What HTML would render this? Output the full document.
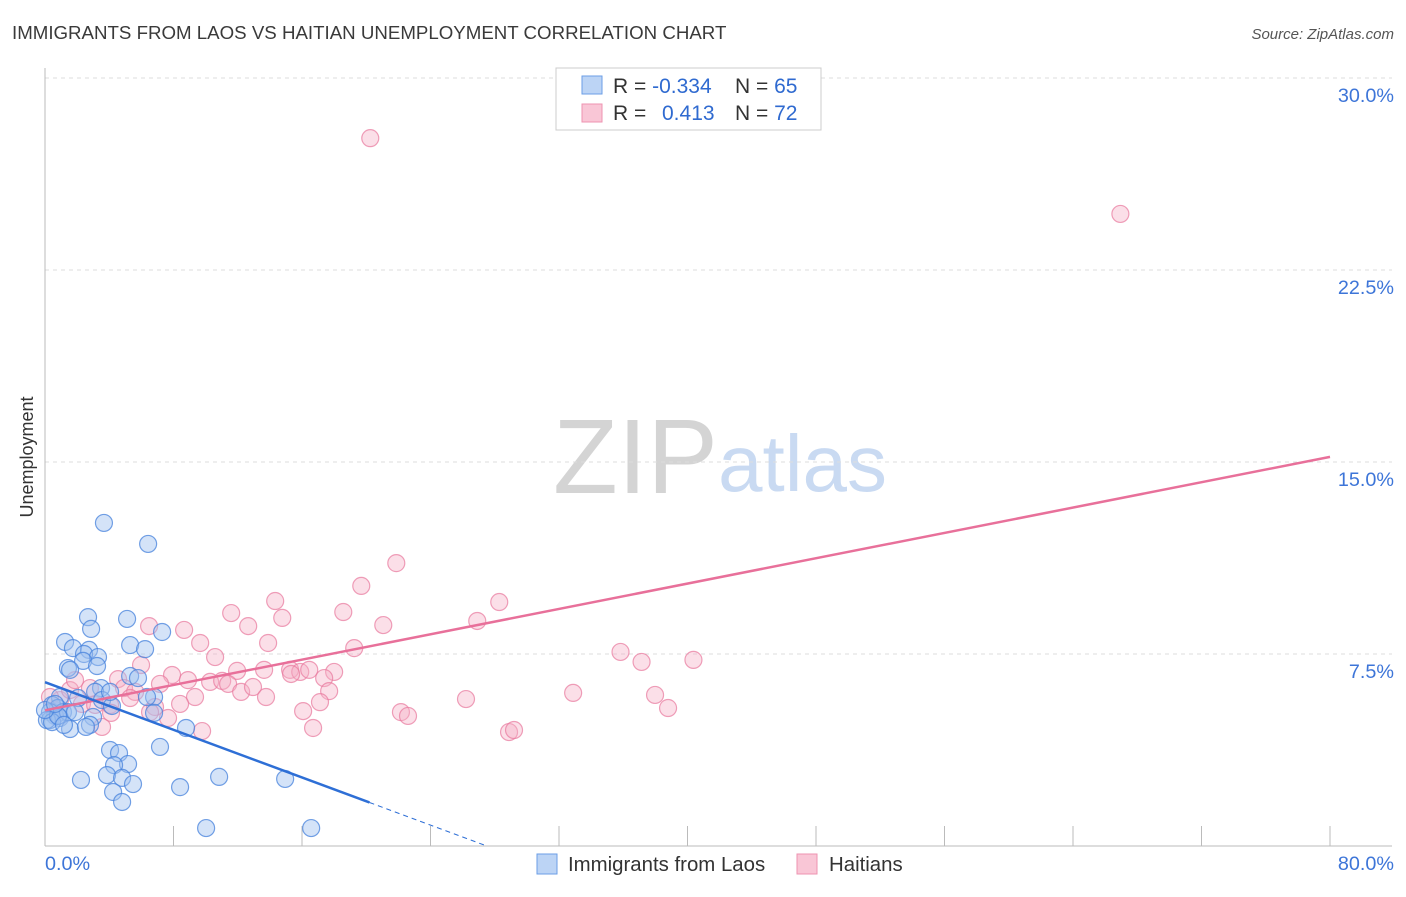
<!DOCTYPE html>
<html><head><meta charset="utf-8"><style>
body{margin:0;background:#fff;font-family:"Liberation Sans",sans-serif;}
svg text{font-family:"Liberation Sans",sans-serif;}
</style></head><body>
<svg id="chart" width="1406" height="892" xmlns="http://www.w3.org/2000/svg">
<text x="12" y="39" font-size="18.7" fill="#3a3a3a">IMMIGRANTS FROM LAOS VS HAITIAN UNEMPLOYMENT CORRELATION CHART</text>
<text x="1394" y="39" font-size="15" fill="#555" text-anchor="end" font-style="italic">Source: ZipAtlas.com</text>
<text x="553" y="493" font-size="106" fill="#d4d4d4" font-family="Liberation Serif, serif">ZIP</text>
<text x="718" y="491" font-size="80" fill="#c9daf2">atlas</text>
<g id="grid"></g>
<g id="axes"></g>
<g id="pts"></g>
<g id="lines"></g>
<text transform="translate(33,457) rotate(-90)" font-size="18" fill="#333" text-anchor="middle">Unemployment</text>
<g>
<rect x="556" y="68" width="265" height="62" fill="#fff" stroke="#ccc"/>
<rect x="582" y="76" width="20" height="18" fill="#bcd4f5" stroke="#6b9ee6"/>
<rect x="582" y="104" width="20" height="18" fill="#f9c6d6" stroke="#ee93b0"/>
<text x="613" y="93" font-size="21" fill="#333">R = <tspan fill="#2f6ad0">-0.334</tspan></text>
<text x="735" y="93" font-size="21" fill="#333">N = <tspan fill="#2f6ad0">65</tspan></text>
<text x="613" y="120" font-size="21" fill="#333">R = </text>
<text x="662" y="120" font-size="21" fill="#2f6ad0">0.413</text>
<text x="735" y="120" font-size="21" fill="#333">N = <tspan fill="#2f6ad0">72</tspan></text>
</g>
<g>
<rect x="537" y="854" width="20" height="20" fill="#bcd4f5" stroke="#6b9ee6"/>
<text x="568" y="871" font-size="20.4" fill="#333">Immigrants from Laos</text>
<rect x="797" y="854" width="20" height="20" fill="#f9c6d6" stroke="#ee93b0"/>
<text x="829" y="871" font-size="20.4" fill="#333">Haitians</text>
</g>
</svg>
<script>
const yTicks=[7.5,15,22.5,30];
const yTickLabels=["7.5%","15.0%","22.5%","30.0%"];
const xTickLabels=["0.0%","80.0%"];
const laosX=[3.67,6.42,2.68,5.11,1.25,2.87,5.30,6.23,7.29,1.74,2.74,2.43,3.30,1.43,2.37,3.24,1.56,3.49,0.93,2.06,3.12,5.30,5.79,6.79,3.55,0.44,0.81,0.31,1.12,0.62,0.31,0.93,1.43,2.99,2.80,1.56,2.55,6.79,8.78,7.16,4.05,4.61,5.17,4.30,3.86,4.80,2.24,5.48,4.24,4.80,8.41,10.84,14.95,10.03,16.57,0.12,0.44,0.81,0,6.35,4.17,1.87,1.18,4.05,0.62];
const laosY=[12.62,11.80,8.94,8.87,7.97,8.48,7.85,7.69,8.36,7.73,7.66,7.50,7.38,6.95,7.23,7.03,6.88,6.17,5.82,5.78,6.02,6.64,6.56,5.82,5.70,5.51,5.39,5.23,5.23,5.08,4.92,5.00,5.23,5.04,4.73,4.57,4.65,5.20,4.61,3.87,3.75,3.63,3.20,3.16,2.77,2.66,2.58,2.42,2.11,1.72,2.30,2.70,2.62,0.70,0.70,4.92,4.84,5.08,5.31,5.82,5.47,5.23,4.73,6.02,5.55];
const haitiX=[20.25,66.95,21.87,19.69,28.28,14.33,11.59,18.57,14.77,6.48,8.66,12.65,21.06,26.91,9.66,13.89,19.25,35.83,37.14,40.37,10.59,11.96,13.64,15.26,15.89,16.45,18.00,7.91,5.98,4.55,7.16,10.28,11.03,11.40,17.38,4.92,5.61,9.34,12.21,12.95,17.69,32.88,37.98,26.21,8.41,6.85,17.12,16.07,4.05,7.66,9.78,16.69,22.16,22.60,28.89,29.20,3.55,2.30,0.93,0.31,0.62,1.56,2.80,3.12,5.30,4.11,1.87,38.79,15.32,6.54,13.76,8.90];
const haitiY=[27.65,24.69,11.05,10.16,9.53,9.57,9.10,9.14,8.91,8.59,8.44,8.59,8.63,8.79,7.93,7.93,7.73,7.58,7.19,7.27,7.38,6.84,6.88,6.88,6.80,6.88,6.80,6.68,7.07,6.52,6.33,6.41,6.45,6.33,6.56,6.17,6.02,5.82,6.02,6.21,6.05,5.98,5.90,5.74,5.55,5.43,5.62,5.27,5.51,5.00,4.49,4.61,5.23,5.08,4.45,4.53,4.65,5.55,5.70,5.82,5.31,6.09,6.17,5.51,5.78,5.20,6.48,5.39,6.72,5.23,5.82,6.48];
const laosTrend=[6.4,1.7];
const laosTrendEnd=20.2;
const haitiTrend=[5.3,15.2];
const NS="http://www.w3.org/2000/svg";
const sx=v=>45+v/80*1285;
const sy=v=>846-v*25.6;
function mk(tag,attrs,parent){const e=document.createElementNS(NS,tag);for(const k in attrs)e.setAttribute(k,attrs[k]);parent.appendChild(e);return e;}
const grid=document.getElementById('grid'),axes=document.getElementById('axes'),pts=document.getElementById('pts'),lines=document.getElementById('lines');
yTicks.forEach((t,i)=>{
  const l=mk('line',{x1:45,x2:1392,y1:sy(t),y2:sy(t),stroke:'#ddd','stroke-dasharray':'4,4'},grid);
  
  
  const tx=mk('text',{x:1394,y:sy(t)+24,'font-size':19.8,fill:'#3d75d8','text-anchor':'end'},axes);
  tx.textContent=yTickLabels[i];
  
  
});
const ax=mk('line',{x1:45,x2:45,y1:68,y2:846,stroke:'#bbb'},axes);


const bx=mk('line',{x1:45,x2:1392,y1:846,y2:846,stroke:'#bbb'},axes);


for(let i=1;i<=10;i++){
  const t=mk('line',{x1:sx(i*8),x2:sx(i*8),y1:826,y2:846,stroke:'#bbb'},axes);
  
  
}
[[0,'start',45],[80,'end',1394]].forEach((d,i)=>{
  const tx=mk('text',{x:d[2],y:870,'font-size':19.8,fill:'#3d75d8','text-anchor':d[1]},axes);
  tx.textContent=xTickLabels[i];
  
  
});
haitiX.forEach((x,i)=>{
  const c=mk('circle',{cx:sx(x),cy:sy(haitiY[i]),r:8.5,fill:'rgba(246,176,198,0.4)',stroke:'rgba(232,120,156,0.7)','stroke-width':1.2},pts);
  
  
});
laosX.forEach((x,i)=>{
  const c=mk('circle',{cx:sx(x),cy:sy(laosY[i]),r:8.5,fill:'rgba(160,194,240,0.45)',stroke:'rgba(70,130,220,0.75)','stroke-width':1.2},pts);
  
  
});
const hl=mk('line',{x1:sx(0),y1:sy(haitiTrend[0]),x2:sx(80),y2:sy(haitiTrend[1]),stroke:'#e8709a','stroke-width':2.5},lines);


const slope=(laosTrend[1]-laosTrend[0])/laosTrendEnd;
const ll=mk('line',{x1:sx(0),y1:sy(laosTrend[0]),x2:sx(laosTrendEnd),y2:sy(laosTrend[1]),stroke:'#2e6fd6','stroke-width':2.5},lines);


const xz=-laosTrend[0]/slope;
const ld=mk('line',{x1:sx(laosTrendEnd),y1:sy(laosTrend[1]),x2:sx(xz),y2:sy(0),stroke:'#2e6fd6','stroke-width':1,'stroke-dasharray':'5,4'},lines);


</script>
</body></html>
